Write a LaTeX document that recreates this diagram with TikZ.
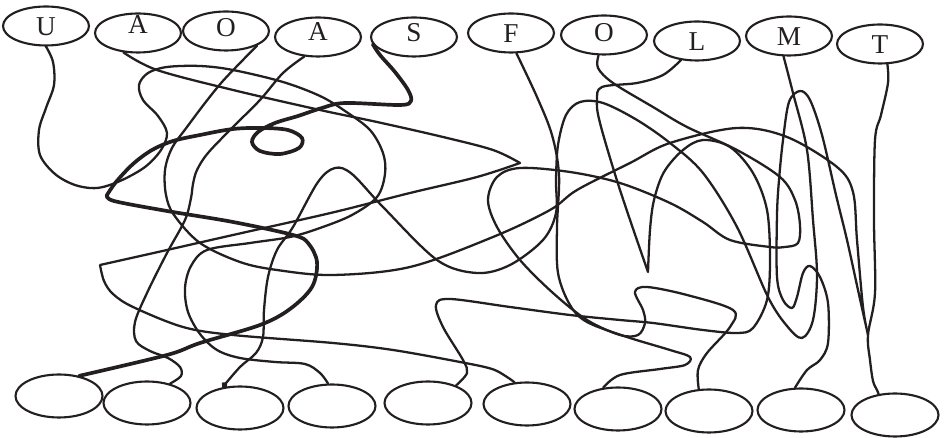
\documentclass[tikz,border=0pt]{standalone}
\usepackage{fontspec}
\setmainfont{Liberation Serif}
\usetikzlibrary{shapes.geometric, arrows.meta}
\definecolor{myink}{RGB}{35,31,32}
\tikzset{
  topnode/.style={ellipse, draw=myink, line width=1.2pt,
    minimum width=1.72cm, minimum height=0.78cm, inner sep=0pt,
    text height=10.3pt, text depth=0pt, text=myink,
    font=\fontsize{15.5}{18}\selectfont},
  botnode/.style={ellipse, draw=myink, line width=1.2pt,
    minimum width=1.74cm, minimum height=0.86cm, inner sep=0pt},
  wire/.style={draw=myink, line width=1.3pt, line cap=round, line join=round},
  thickwire/.style={wire, line width=2.1pt},
  wiggle/.style={smooth, tension=0.55}
}
\begin{document}
\begin{tikzpicture}[x=0.02cm, y=-0.02cm]
  \useasboundingbox (0,0) rectangle (944,438);

  \node[topnode] (lU) at (46,26) {U};
  \node[topnode] (lA1) at (138,33) {\raisebox{5pt}{A}};
  \node[topnode] (lO1) at (226,31) {\raisebox{2.3pt}{O}};
  \node[topnode] (lA2) at (318,37) {\raisebox{3.4pt}{A}};
  \node[topnode] (lS) at (414,37) {\raisebox{2.8pt}{S}};
  \node[topnode] (lF) at (511,33) {F};
  \node[topnode] (lO2) at (604,35) {\raisebox{1.7pt}{O}};
  \node[topnode] (lL) at (697,41) {L};
  \node[topnode] (lM) at (789,36) {M};
  \node[topnode] (lT) at (880,44) {T};

  \node[botnode] (e1) at (59,396) {};
  \node[botnode] (e2) at (147,403) {};
  \node[botnode] (e3) at (240,408) {};
  \node[botnode] (e4) at (332,406) {};
  \node[botnode] (e5) at (428,403) {};
  \node[botnode] (e6) at (527,404) {};
  \node[botnode] (e7) at (618,409) {};
  \node[botnode] (e8) at (709,411) {};
  \node[botnode] (e9) at (801,410) {};
  \node[botnode] (e10) at (895,415) {};

  \draw[wire] plot[wiggle] coordinates {(lU.south) (53,62) (54,85) (46,108) (39,130) (40,155) (55,174) (75,185) (97,188) (120,181) (145,167) (161,150) (167,133) (158,116) (143,100) (139,85) (148,73) (167,67) (200,66) (233,70) (283,82) (320,96) (345,111) (370,130) (383,153) (385,174) (377,197) (352,215) (320,228) (290,237) (250,243) (207,250) (191,266) (185,288) (188,312) (200,334) (217,350) (240,358) (275,362) (305,364) (320,373) (e4.100)};

  \draw[wire] plot[wiggle] coordinates {(lA1.233) (157,70) (233,90) (320,110) (377,122) (443,137) (493,150) (520,163)}
    -- plot[wiggle] coordinates {(520,163) (477,177) (410,193) (343,210) (300,220) (233,235) (167,250) (100,265)}
    -- plot[wiggle] coordinates {(100,265) (104,281) (113,294) (133,307) (183,327) (233,335) (333,343) (393,350) (460,362) (492,369) (507,377) (e6.120)};

  \draw[wire] plot[wiggle] coordinates {(lO1.-25) (240,63) (222,82) (205,103) (187,127) (172,148) (165,170) (166,195) (174,215) (200,243) (240,262) (277,270) (333,275) (410,267) (493,237) (550,210) (577,190) (630,163) (670,143) (737,128) (787,137) (837,167) (853,192) (857,240) (863,307) (868,335)}
    -- plot[wiggle] coordinates {(868,335) (858,290) (847,240) (836,195) (822,135) (810,100) (800,91) (789,102) (783,140) (779,180) (777,215) (777,277) (783,300) (792,308) (797,297) (803,273) (810,266) (820,277) (828,303) (828,343) (820,360) (807,370) (e9.105)};

  \draw[wire] plot[wiggle] coordinates {(lA2.235) (283,73) (260,100) (233,127) (208,153) (197,170) (193,184) (191,198) (185,220) (167,253) (147,293) (135,322) (136,341) (150,351) (168,358) (180,367) (181,376) (e2.40)};

  \draw[thickwire] plot[wiggle] coordinates {(lS.190) (380,55) (395,72) (408,90) (411,101) (400,105) (345,103) (322,108) (298,116) (275,123) (258,132) (252,142) (260,151) (280,154) (299,148) (302,138) (288,130) (262,128) (233,129) (200,135) (173,141) (152,150) (133,164) (116,182) (107,195)}
    -- plot[wiggle] coordinates {(107,195) (114,201) (167,211) (233,222) (293,235) (308,243) (317,262) (312,287) (290,309) (260,325) (200,343) (167,355) (e1.45)};

  \draw[wire] plot[wiggle] coordinates {(lF.-75) (537,97) (552,135) (559,175) (557,227) (558,273) (570,305) (587,322) (627,337) (670,350) (690,357) (685,365) (660,369) (620,375) (e7.125)};

  \draw[wire] plot[wiggle] coordinates {(lO2.-105) (598,68) (613,83) (653,107) (687,127) (737,150) (780,177) (795,200) (800,225) (798,243) (785,247) (770,247) (730,240) (703,222) (670,203) (620,183) (570,172) (520,168) (497,177) (488,200) (497,227) (520,260) (553,293) (587,320) (620,335) (638,335) (645,323) (643,310) (635,292) (647,287) (687,295) (733,310) (730,327) (707,353) (698,370) (e8.115)};

  \draw[wire] plot[wiggle] coordinates {(lL.230) (663,75) (637,83) (602,87) (597,100) (600,123) (620,190) (648,272)}
    -- plot[wiggle] coordinates {(648,272) (650,230) (654,200) (664,172) (683,150) (703,140) (730,147) (753,173) (767,210) (770,260) (767,300) (753,328) (737,333) (703,330) (653,323) (620,320) (570,315) (510,307) (450,299) (436,305) (443,327) (463,360) (467,373) (e5.32)};

  \draw[wire, -{Circle[length=3.5pt]}] plot[wiggle] coordinates {(lM.-105) (793,93) (807,150) (813,220) (817,275) (813,320) (802,338) (787,326) (768,297) (737,227) (703,173) (670,143) (637,120) (603,103) (580,102) (566,115) (558,145) (556,180) (556,213) (543,240) (510,265) (477,273) (437,260) (383,207) (352,174) (335,168) (318,182) (293,227) (277,250) (268,277) (264,310) (263,337) (256,353) (240,367) (e3.130)};

  \draw[wire] plot[wiggle] coordinates {(lT.-70) (888,83) (881,115) (875,140) (874,220) (875,293) (868,335) (870,360) (873,381) (877,390) (e10.128)};
\end{tikzpicture}
\end{document}
